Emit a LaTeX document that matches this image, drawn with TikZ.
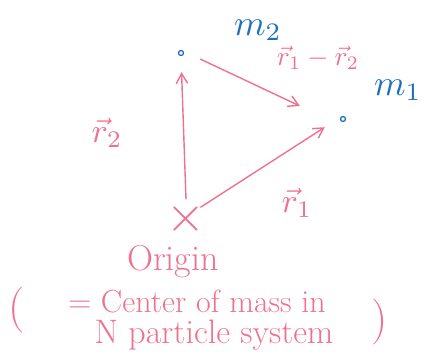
\documentclass[tikz,border=0pt]{standalone}
\usepackage{amsmath}
\usepackage{tikz}
\usetikzlibrary{arrows.meta,positioning}
\definecolor{pinkink}{HTML}{F0708F}
\definecolor{blueink}{HTML}{1F6FC0}
\tikzset{
  vec/.style={-{Straight Barb[length=3.5mm,width=4mm]},line width=1.4pt,color=pinkink},
  pt/.style={circle,draw=blueink,line width=1.3pt,inner sep=0pt,minimum size=5pt},
  mlbl/.style={scale=3.6,text=blueink},
  vlbl/.style={scale=3.4,text=pinkink},
  note/.style={font=\fontsize{32}{32}\selectfont,text=pinkink,inner sep=0pt},
  paren/.style={font=\fontsize{46}{46}\selectfont,text=pinkink},
}
\begin{document}
\begin{tikzpicture}[x=1pt,y=-1pt]
\useasboundingbox (0,0) rectangle (425,358);
% masses and origin
\node[pt] (m2) at (181,53) {};
\node[pt] (m1) at (343,119) {};
\node[text=pinkink,scale=5,inner sep=0pt] (o) at (186,219) {$\times$};
\node[mlbl] (lm2) at (258,30) {$m_2$};
\node[mlbl] (lm1) at (398,90) {$m_1$};
% position vectors
\draw[vec,shorten >=16pt] ([yshift=2pt]o.north) -- (m2.south);
\draw[vec] ([xshift=-6pt,yshift=-6pt]o.north east) -- ([xshift=-16pt,yshift=-6pt]m1.south west);
\draw[vec] ([xshift=16pt,yshift=-6pt]m2.east) -- ([xshift=-40pt,yshift=13pt]m1.west);
\node[vlbl] (lr2) at (107,133) {$\vec r_2$};
\node[vlbl] (lr1) at (297,203) {$\vec r_1$};
\node[vlbl,scale=0.8] (lr12) at (318,58) {$\vec r_1 - \vec r_2$};
% caption
\node[note,font=\fontsize{36}{36}\selectfont] (orig) at (173,262) {Origin};
\node[note] (com) at (197,302) {= Center of mass in};
\node[note,font=\fontsize{34}{34}\selectfont] (nps) at (214,335) {N particle system};
\node[paren] (lp) at (17,310) {(};
\node[paren] (rp) at (380,322) {)};
\end{tikzpicture}
\end{document}
